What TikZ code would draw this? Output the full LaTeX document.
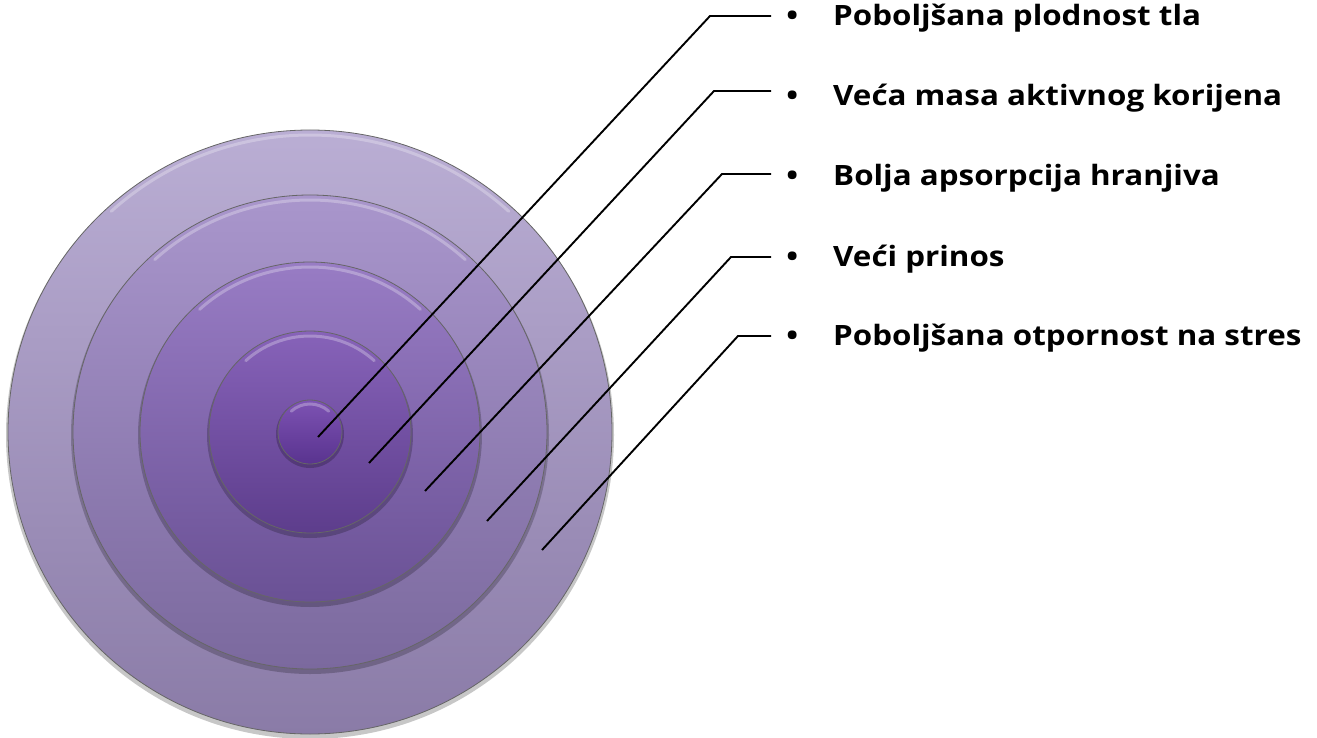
\documentclass[tikz,border=0pt]{standalone}
\usepackage{fontspec}
\setmainfont{Open Sans}
\newfontfamily\labfont{Open Sans}[FakeStretch=1.12]
\definecolor{d1t}{HTML}{BAAED4}
\definecolor{d1b}{HTML}{8A7BA7}
\definecolor{d2t}{HTML}{A996CC}
\definecolor{d2b}{HTML}{7B699E}
\definecolor{d3t}{HTML}{987CC4}
\definecolor{d3b}{HTML}{6A5195}
\definecolor{d4t}{HTML}{8763B9}
\definecolor{d4b}{HTML}{5D3D8C}
\definecolor{d5t}{HTML}{7D53B3}
\definecolor{d5b}{HTML}{59338F}
\begin{document}
\begin{tikzpicture}[x=1pt,y=-1pt]
\tikzset{
  disc/.style={circle, inner sep=0pt, minimum size=#1, draw=black!60, line width=0.8pt},
  shadowdisc/.style={circle, inner sep=0pt, minimum size=#1, fill=black, fill opacity=0.22, draw=none},
  hl/.style={white, opacity=0.28, line width=3pt, line cap=round},
  lead/.style={black, line width=1.9pt},
  lab/.style={anchor=base west, inner sep=0pt, font=\labfont\bfseries\fontsize{28}{34}\selectfont},
}
\useasboundingbox (0,0) rectangle (1317,738);
\fill[white] (0,0) rectangle (1317,738);

% discs
\node[shadowdisc=608pt] (s1) at (310,435) {};
\node[disc=604pt, top color=d1t, bottom color=d1b] (d1) at (310,432) {};
\draw[hl] (310,432) ++(228:297) arc[start angle=228,end angle=312,radius=297];

\node[shadowdisc=478pt] (s2) at (310,435) {};
\node[disc=474pt, top color=d2t, bottom color=d2b] (d2) at (310,432) {};
\draw[hl] (310,432) ++(228:232) arc[start angle=228,end angle=312,radius=232];

\node[shadowdisc=344pt] (s3) at (310,435) {};
\node[disc=340pt, top color=d3t, bottom color=d3b] (d3) at (310,432) {};
\draw[hl] (310,432) ++(228:165) arc[start angle=228,end angle=312,radius=165];

\node[shadowdisc=206pt] (s4) at (310,435) {};
\node[disc=202pt, top color=d4t, bottom color=d4b] (d4) at (310,432) {};
\draw[hl] (310,432) ++(228:96) arc[start angle=228,end angle=312,radius=96];

\node[shadowdisc=68pt] (s5) at (310,434) {};
\node[disc=64pt, top color=d5t, bottom color=d5b] (d5) at (310,432) {};
\draw[hl] (310,432) ++(228:28) arc[start angle=228,end angle=312,radius=28];

% labels
\node[lab] (l1) at (771,26) {\makebox[42pt]{•}\hspace{20pt}Poboljšana plodnost tla};
\node[lab] (l2) at (771,106) {\makebox[42pt]{•}\hspace{20pt}Veća masa aktivnog korijena};
\node[lab] (l3) at (771,186) {\makebox[42pt]{•}\hspace{20pt}Bolja apsorpcija hranjiva};
\node[lab] (l4) at (771,266) {\makebox[42pt]{•}\hspace{20pt}Veći prinos};
\node[lab] (l5) at (771,345) {\makebox[42pt]{•}\hspace{20pt}Poboljšana otpornost na stres};

% leader points
\coordinate (a1) at (318,437); \coordinate (b1) at (710,16);
\coordinate (a2) at (369,463); \coordinate (b2) at (714,91);
\coordinate (a3) at (425,491); \coordinate (b3) at (722,174);
\coordinate (a4) at (487,521); \coordinate (b4) at (731,257);
\coordinate (a5) at (542,550); \coordinate (b5) at (738,336);

\draw[lead] (a1) -- (b1) -- (b1 -| l1.west);
\draw[lead] (a2) -- (b2) -- (b2 -| l2.west);
\draw[lead] (a3) -- (b3) -- (b3 -| l3.west);
\draw[lead] (a4) -- (b4) -- (b4 -| l4.west);
\draw[lead] (a5) -- (b5) -- (b5 -| l5.west);
\end{tikzpicture}
\end{document}
